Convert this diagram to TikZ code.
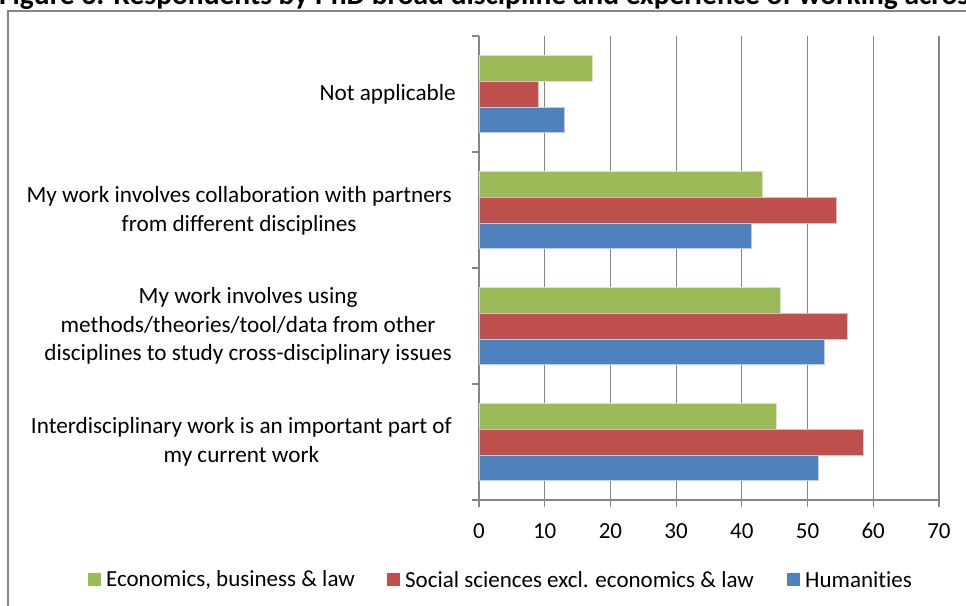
\documentclass[tikz,border=0pt]{standalone}
\usepackage{fontspec}
\setmainfont[Ligatures=NoCommon]{Carlito}
\usepackage{xcolor}
\usepackage{tikz}
\usetikzlibrary{positioning}
\definecolor{econ}{HTML}{9BBB59}
\definecolor{soc}{HTML}{C0504D}
\definecolor{hum}{HTML}{4F81BD}
\definecolor{gridgray}{HTML}{868686}

\begin{document}
\begin{tikzpicture}[x=1pt,y=-1pt,
	cat label/.style={anchor=east,align=center,inner sep=0pt,
		font=\fontsize{23.2}{28.5}\selectfont},
	tick label/.style={anchor=base,inner sep=0pt,font=\fontsize{23}{26}\selectfont},
	bar/.style={draw=white!60!#1,line width=0.6pt,fill=#1},
	key box/.style={fill=#1,minimum size=12.5pt,inner sep=0pt},
	key label/.style={anchor=west,inner sep=0pt,font=\fontsize{23}{26}\selectfont},
	grid line/.style={draw=gridgray,line width=1.2pt}]

    \useasboundingbox (0,0) rectangle (966,605);
    \clip (0,0) rectangle (966,605);

    % title and chart frame
    \node[anchor=base west,inner sep=0pt,font=\bfseries\fontsize{29.5}{33}\selectfont] (title) at (-1,5)
	{Figure 3: Respondents by PhD broad discipline and experience of working across disciplines};
    \draw[gridgray,line width=1.2pt] (8,11) rectangle (1000,700);

    % grid and axes
    \foreach \v in {1,...,7}
	\draw[grid line] (479+65.7*\v,36) -- (479+65.7*\v,507);
    \foreach \c in {0,...,4}
	\draw[grid line] (472,36+116*\c) -- (479,36+116*\c);
    \draw[grid line] (479,36) -- (479,507);
    \draw[grid line] (479,500) -- (939,500);

    % bars
    \foreach \c/\g/\r/\b in {0/17.2/9.1/13.0, 1/43.1/54.4/41.4, 2/45.8/56.1/52.5, 3/45.2/58.5/51.6}{
	\draw[bar=econ] (479,55.5+116*\c) rectangle (479+6.57*\g,81.2+116*\c);
	\draw[bar=soc] (479,81.2+116*\c) rectangle (479+6.57*\r,106.9+116*\c);
	\draw[bar=hum] (479,106.9+116*\c) rectangle (479+6.57*\b,132.6+116*\c);
    }

    % category labels
    \node[cat label] (na) at (456,94) {Not applicable};
    \node[cat label] (collab) at (452,211) {My work involves collaboration with partners\\from different disciplines};
    \node[cat label] (methods) at (452,326) {My work involves using\\methods/theories/tool/data from other\\disciplines to study cross-disciplinary issues};
    \node[cat label] (interdisc) at (452,442) {Interdisciplinary work is an important part of\\my current work};

    % value axis labels
    \foreach \v/\lab in {0/0,1/10,2/20,3/30,4/40,5/50,6/60,7/70}
	\node[tick label] (t\v) at (479+65.7*\v,538.5) {\lab};

    % legend
    \node[key box=econ] (kecon) at (94.5,579.5) {};
    \node[key label, right=5pt of kecon] (lecon) {Economics, business \& law};
    \node[key box=soc, right=32pt of lecon] (ksoc) {};
    \node[key label, right=5pt of ksoc] (lsoc) {Social sciences excl. economics \& law};
    \node[key box=hum, right=33pt of lsoc] (khum) {};
    \node[key label, right=5pt of khum] (lhum) {Humanities};

\end{tikzpicture}
\end{document}
